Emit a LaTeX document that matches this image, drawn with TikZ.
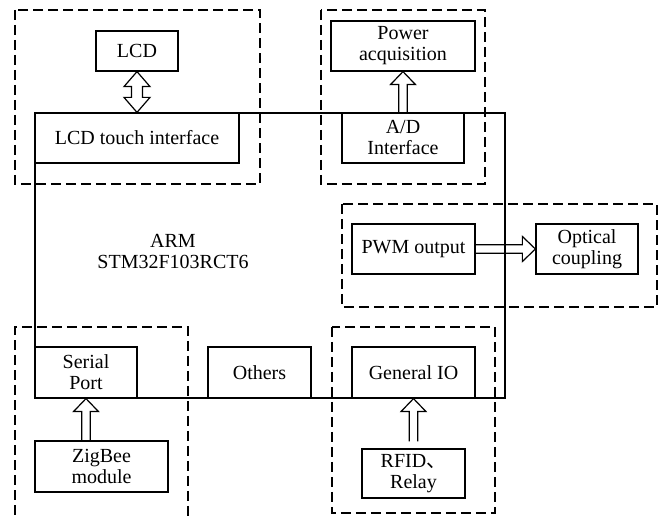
\documentclass[tikz,border=0pt]{standalone}
\usepackage{fontspec}
\setmainfont{Liberation Serif}
\newfontfamily\cjk{Noto Sans CJK SC}
\usetikzlibrary{calc}

\begin{document}
\begin{tikzpicture}[
        x=0.5pt, y=-0.5pt,
        % define styles
        block/.style={
            draw,
            fill=white,
            line width=0.6pt,
            align=center,
            inner sep=0pt,
            font=\fontsize{10}{10.5}\selectfont
        },
        group/.style={
            draw,
            line width=0.8pt,
            dash pattern=on 5pt off 2.5pt
        },
        % hollow arrow, one head at the target
        hollow/.style={
            line width=0.6pt,
            to path={
                ($(\tikztostart)!2.1pt!90:(\tikztotarget)$)
                -- ($(\tikztotarget)!6.5pt!(\tikztostart)!2.1pt!-90:(\tikztostart)$)
                -- ($(\tikztotarget)!6.5pt!(\tikztostart)!6.25pt!-90:(\tikztostart)$)
                -- (\tikztotarget)
                -- ($(\tikztotarget)!6.5pt!(\tikztostart)!6.25pt!90:(\tikztostart)$)
                -- ($(\tikztotarget)!6.5pt!(\tikztostart)!2.1pt!90:(\tikztostart)$)
                -- ($(\tikztostart)!2.1pt!-90:(\tikztotarget)$)
            }
        },
        % hollow arrow, heads at both ends
        hollowboth/.style={
            line width=0.6pt,
            to path={
                ($(\tikztostart)!7.5pt!(\tikztotarget)!2.75pt!90:(\tikztotarget)$)
                -- ($(\tikztostart)!7.5pt!(\tikztotarget)!6.5pt!90:(\tikztotarget)$)
                -- (\tikztostart)
                -- ($(\tikztostart)!7.5pt!(\tikztotarget)!6.5pt!-90:(\tikztotarget)$)
                -- ($(\tikztostart)!7.5pt!(\tikztotarget)!2.75pt!-90:(\tikztotarget)$)
                -- ($(\tikztotarget)!7.5pt!(\tikztostart)!2.75pt!90:(\tikztostart)$)
                -- ($(\tikztotarget)!7.5pt!(\tikztostart)!6.5pt!90:(\tikztostart)$)
                -- (\tikztotarget)
                -- ($(\tikztotarget)!7.5pt!(\tikztostart)!6.5pt!-90:(\tikztostart)$)
                -- ($(\tikztotarget)!7.5pt!(\tikztostart)!2.75pt!-90:(\tikztostart)$)
                -- cycle
            }
        },
        >=latex
    ]
    \useasboundingbox (0,0) rectangle (661,517);

    % dashed groups
    \draw[group] (15,10) rectangle (260,184);
    \draw[group] (321,10) rectangle (485,184);
    \draw[group] (342,204) rectangle (657,307);
    \draw[group] (15,530) -- (15,327) -- (188,327) -- (188,530);
    \draw[group] (332,327) rectangle (495,513);

    % the controller
    \node[draw, line width=0.6pt, minimum width=235pt, minimum height=142.5pt] (arm) at (270,255.5) {};
    \node[align=center, font=\fontsize{10}{10.5}\selectfont] (armtxt) at (173,252) {ARM\\STM32F103RCT6};

    % blocks
    \node[block, minimum width=41pt, minimum height=20pt] (lcd) at (137,51) {LCD};
    \node[block, minimum width=102pt, minimum height=25pt] (lcdif) at (137,138) {LCD touch interface};
    \node[block, minimum width=72pt, minimum height=25pt] (power) at (403,46) {Power\\acquisition};
    \node[block, minimum width=61pt, minimum height=25pt] (adif) at (403,138) {A/D\\Interface};
    \node[block, minimum width=61.5pt, minimum height=25pt] (pwm) at (413.5,249) {PWM output};
    \node[block, minimum width=51pt, minimum height=25pt] (optic) at (587,249) {Optical\\coupling};
    \node[block, minimum width=51pt, minimum height=25.5pt] (serial) at (86,372.5) {Serial\\Port};
    \node[block, minimum width=51.5pt, minimum height=25.5pt] (others) at (259.5,372.5) {Others};
    \node[block, minimum width=61.5pt, minimum height=25.5pt] (gio) at (413.5,372.5) {General IO};
    \node[block, minimum width=66.5pt, minimum height=25.5pt] (zigbee) at (101.5,466.5) {ZigBee\\module};
    \node[block, minimum width=51.5pt, minimum height=24.5pt] (rfid) at (413.5,473.5) {RFID{\cjk 、}\\Relay};
    \coordinate (rfidtop) at ($(rfid.north)+(0,-7)$);

    % hollow arrows
    \draw[hollowboth] (lcd.south) to (lcdif.north);
    \draw[hollow] (adif.north) to (power.south);
    \draw[hollow] (pwm.east) to (optic.west);
    \draw[hollow] (serial.south |- zigbee.north) to (serial.south);
    \draw[hollow] (rfidtop) to (gio.south);

\end{tikzpicture}
\end{document}
